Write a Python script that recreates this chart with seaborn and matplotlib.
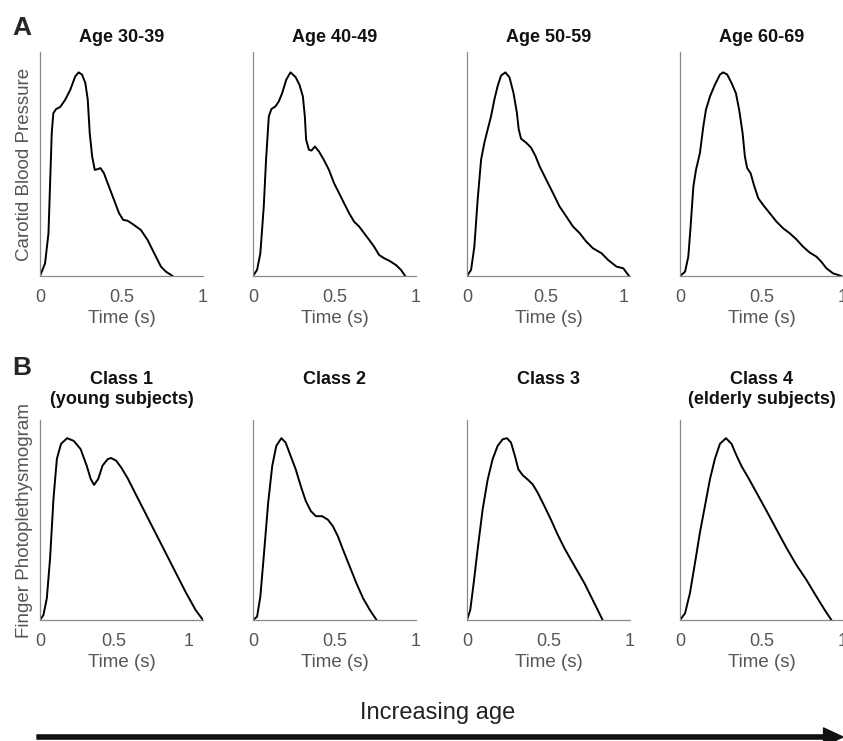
"""
Pulse waveforms by age group: carotid pressure (A) and finger PPG (B)
"""

import matplotlib
matplotlib.use("Agg")
import matplotlib.pyplot as plt
from matplotlib.patches import FancyArrowPatch
import pandas as pd
import seaborn as sns

# ---- row A: carotid blood pressure, one trace per age group ----
age_titles = ["Age 30-39", "Age 40-49", "Age 50-59", "Age 60-69"]
age_xmax = [1.0, 1.0, 1.04, 1.0]

age30_t = [0, 0.031, 0.052, 0.062, 0.072, 0.082, 0.099, 0.124, 0.155, 0.186, 0.216, 0.237,
           0.258, 0.278, 0.293, 0.305, 0.320, 0.336, 0.355, 0.371, 0.392, 0.423, 0.454,
           0.485, 0.511, 0.536, 0.567, 0.619, 0.660, 0.701, 0.742, 0.773, 0.814]
age30_p = [0, 0.062, 0.210, 0.456, 0.702, 0.800, 0.820, 0.830, 0.866, 0.915, 0.980, 1.0,
           0.989, 0.948, 0.866, 0.702, 0.587, 0.521, 0.525, 0.530, 0.505, 0.439, 0.374,
           0.308, 0.275, 0.272, 0.256, 0.226, 0.177, 0.111, 0.046, 0.021, 0]

age40_t = [0, 0.025, 0.045, 0.066, 0.080, 0.097, 0.113, 0.138, 0.158, 0.179, 0.204, 0.230,
           0.261, 0.285, 0.306, 0.318, 0.326, 0.343, 0.359, 0.380, 0.405, 0.435, 0.466,
           0.497, 0.528, 0.559, 0.590, 0.620, 0.651, 0.682, 0.713, 0.743, 0.774, 0.805,
           0.836, 0.877, 0.908, 0.934]
age40_p = [0, 0.030, 0.111, 0.341, 0.570, 0.784, 0.820, 0.833, 0.857, 0.898, 0.964, 1.0,
           0.977, 0.939, 0.882, 0.784, 0.669, 0.620, 0.616, 0.636, 0.611, 0.570, 0.521,
           0.456, 0.407, 0.357, 0.308, 0.267, 0.243, 0.210, 0.177, 0.144, 0.103, 0.087,
           0.075, 0.054, 0.030, 0]

age50_t = [0, 0.026, 0.047, 0.068, 0.090, 0.111, 0.132, 0.154, 0.175, 0.196, 0.217, 0.245,
           0.271, 0.296, 0.318, 0.330, 0.345, 0.377, 0.409, 0.437, 0.463, 0.505, 0.548,
           0.590, 0.633, 0.676, 0.718, 0.761, 0.804, 0.858, 0.900, 0.954, 0.997, 1.034]
age50_p = [0, 0.030, 0.145, 0.375, 0.572, 0.655, 0.720, 0.786, 0.868, 0.934, 0.984, 1.0,
           0.975, 0.901, 0.803, 0.720, 0.674, 0.655, 0.630, 0.589, 0.539, 0.474, 0.408,
           0.342, 0.293, 0.243, 0.211, 0.169, 0.136, 0.112, 0.079, 0.046, 0.038, 0]

age60_t = [0, 0.031, 0.051, 0.065, 0.082, 0.098, 0.122, 0.143, 0.159, 0.184, 0.214, 0.245,
           0.265, 0.290, 0.316, 0.343, 0.363, 0.384, 0.398, 0.412, 0.433, 0.453, 0.480,
           0.510, 0.551, 0.592, 0.633, 0.673, 0.714, 0.755, 0.796, 0.837, 0.867, 0.898,
           0.939, 0.990]
age60_p = [0, 0.021, 0.095, 0.242, 0.439, 0.521, 0.603, 0.734, 0.816, 0.882, 0.939, 0.989,
           1.0, 0.989, 0.948, 0.898, 0.816, 0.702, 0.587, 0.530, 0.505, 0.448, 0.382,
           0.349, 0.308, 0.267, 0.234, 0.210, 0.180, 0.144, 0.115, 0.095, 0.070, 0.038,
           0.013, 0]

# ---- row B: finger photoplethysmogram, one trace per class ----
class_titles = ["Class 1\n(young subjects)", "Class 2", "Class 3", "Class 4\n(elderly subjects)"]
class_xmax = [1.1, 1.0, 1.0, 1.0]

class1_t = [0, 0.023, 0.046, 0.068, 0.091, 0.114, 0.142, 0.183, 0.228, 0.274, 0.315, 0.342,
            0.365, 0.393, 0.422, 0.457, 0.480, 0.514, 0.548, 0.594, 0.639, 0.708, 0.776,
            0.845, 0.913, 0.982, 1.050, 1.100]
class1_v = [0, 0.027, 0.119, 0.339, 0.668, 0.887, 0.969, 1.0, 0.985, 0.940, 0.849, 0.776,
            0.743, 0.776, 0.849, 0.885, 0.891, 0.876, 0.839, 0.776, 0.703, 0.593, 0.484,
            0.374, 0.265, 0.155, 0.055, 0]

class2_t = [0, 0.025, 0.045, 0.066, 0.093, 0.118, 0.143, 0.174, 0.200, 0.231, 0.262, 0.293,
            0.324, 0.355, 0.386, 0.424, 0.459, 0.490, 0.521, 0.552, 0.593, 0.634, 0.675,
            0.717, 0.758]
class2_v = [0, 0.018, 0.129, 0.350, 0.645, 0.847, 0.958, 1.0, 0.976, 0.902, 0.829, 0.737,
            0.654, 0.599, 0.571, 0.571, 0.552, 0.516, 0.460, 0.387, 0.295, 0.203, 0.120,
            0.055, 0]

class3_t = [0, 0.020, 0.041, 0.065, 0.096, 0.127, 0.157, 0.188, 0.219, 0.245, 0.270, 0.294,
            0.315, 0.342, 0.372, 0.403, 0.434, 0.475, 0.515, 0.556, 0.597, 0.638, 0.679,
            0.720, 0.761, 0.802, 0.832]
class3_v = [0, 0.055, 0.203, 0.387, 0.608, 0.773, 0.884, 0.958, 0.994, 1.0, 0.976, 0.902,
            0.829, 0.796, 0.773, 0.746, 0.700, 0.626, 0.552, 0.470, 0.396, 0.331, 0.267,
            0.203, 0.129, 0.055, 0]

class4_t = [0, 0.031, 0.061, 0.092, 0.122, 0.153, 0.184, 0.214, 0.245, 0.282, 0.316, 0.347,
            0.378, 0.418, 0.469, 0.531, 0.592, 0.653, 0.714, 0.776, 0.837, 0.888, 0.929]
class4_v = [0, 0.037, 0.148, 0.314, 0.480, 0.627, 0.775, 0.886, 0.969, 1.0, 0.969, 0.904,
            0.845, 0.784, 0.701, 0.600, 0.498, 0.397, 0.303, 0.220, 0.129, 0.055, 0]

xticks = [0, 0.5, 1]
xtick_labels = ["0", "0.5", "1"]


def draw_panel(ax, t, v, xmax, ylabel=None):
    df = pd.DataFrame({"Time": t, "Value": v})
    sns.lineplot(data=df, x="Time", y="Value", ax=ax, color="black",
                 linewidth=1.4, estimator=None, solid_joinstyle="round")
    ax.set_xlim(0, xmax)
    ax.set_ylim(0, 1.1)
    ax.set_xticks(xticks)
    ax.set_xticklabels(xtick_labels)
    ax.set_yticks([])
    ax.tick_params(axis="x", direction="in", length=4, width=0.8, pad=9,
                   colors="#8a8a8a", labelcolor="#555555", labelsize=13)
    for side in ["top", "right"]:
        ax.spines[side].set_visible(False)
    for side in ["left", "bottom"]:
        ax.spines[side].set_color("#8a8a8a")
        ax.spines[side].set_linewidth(0.9)
    ax.set_xlabel("Time (s)", fontsize=13.5, color="#555555", labelpad=3)
    if ylabel:
        ax.set_ylabel(ylabel, fontsize=13.5, color="#555555")
        ax.yaxis.set_label_coords(-0.045, 0.5)
    else:
        ax.set_ylabel("")


sns.set_style("white")
plt.rcParams["font.family"] = ["Liberation Sans", "DejaVu Sans"]

fig = plt.figure(figsize=(8.43, 7.41), dpi=100)

W, H = 843, 741
lefts = [40, 253, 467, 680]
width = 163

rows = [
    (52, 276, age_titles, age_xmax,
     [(age30_t, age30_p), (age40_t, age40_p), (age50_t, age50_p), (age60_t, age60_p)],
     "Carotid Blood Pressure", 28.5),
    (420, 620, class_titles, class_xmax,
     [(class1_t, class1_v), (class2_t, class2_v), (class3_t, class3_v), (class4_t, class4_v)],
     "Finger Photoplethysmogram", 371.5),
]

for top, bottom, titles, xmaxes, series, ylab, title_top in rows:
    for i, (left, title, xmax, (t, v)) in enumerate(zip(lefts, titles, xmaxes, series)):
        ax = fig.add_axes([left / W, 1 - bottom / H, width / W, (bottom - top) / H])
        draw_panel(ax, t, v, xmax, ylabel=ylab if i == 0 else None)
        fig.text((left + width / 2) / W, 1 - title_top / H, title, ha="center", va="top",
                 fontsize=13, fontweight="bold", color="#111111")

# panel letters
fig.text(12 / W, 1 - 35 / H, "A", fontsize=19, fontweight="bold", va="baseline")
fig.text(12 / W, 1 - 375 / H, "B", fontsize=19, fontweight="bold", va="baseline")

# age arrow along the bottom
fig.text(438 / W, 1 - 713 / H, "Increasing age", ha="center", va="center",
         fontsize=17, color="#222222",
         family=["Liberation Sans Narrow", "Liberation Sans"])
arrow = FancyArrowPatch((37 / W, 1 - 737 / H), (843 / W, 1 - 737 / H),
                        transform=fig.transFigure,
                        arrowstyle="simple,head_length=0.7,head_width=0.65,tail_width=0.15",
                        mutation_scale=20, color="#111111", shrinkA=0, shrinkB=0)
fig.patches.append(arrow)

fig.savefig("out.png", dpi=100)
